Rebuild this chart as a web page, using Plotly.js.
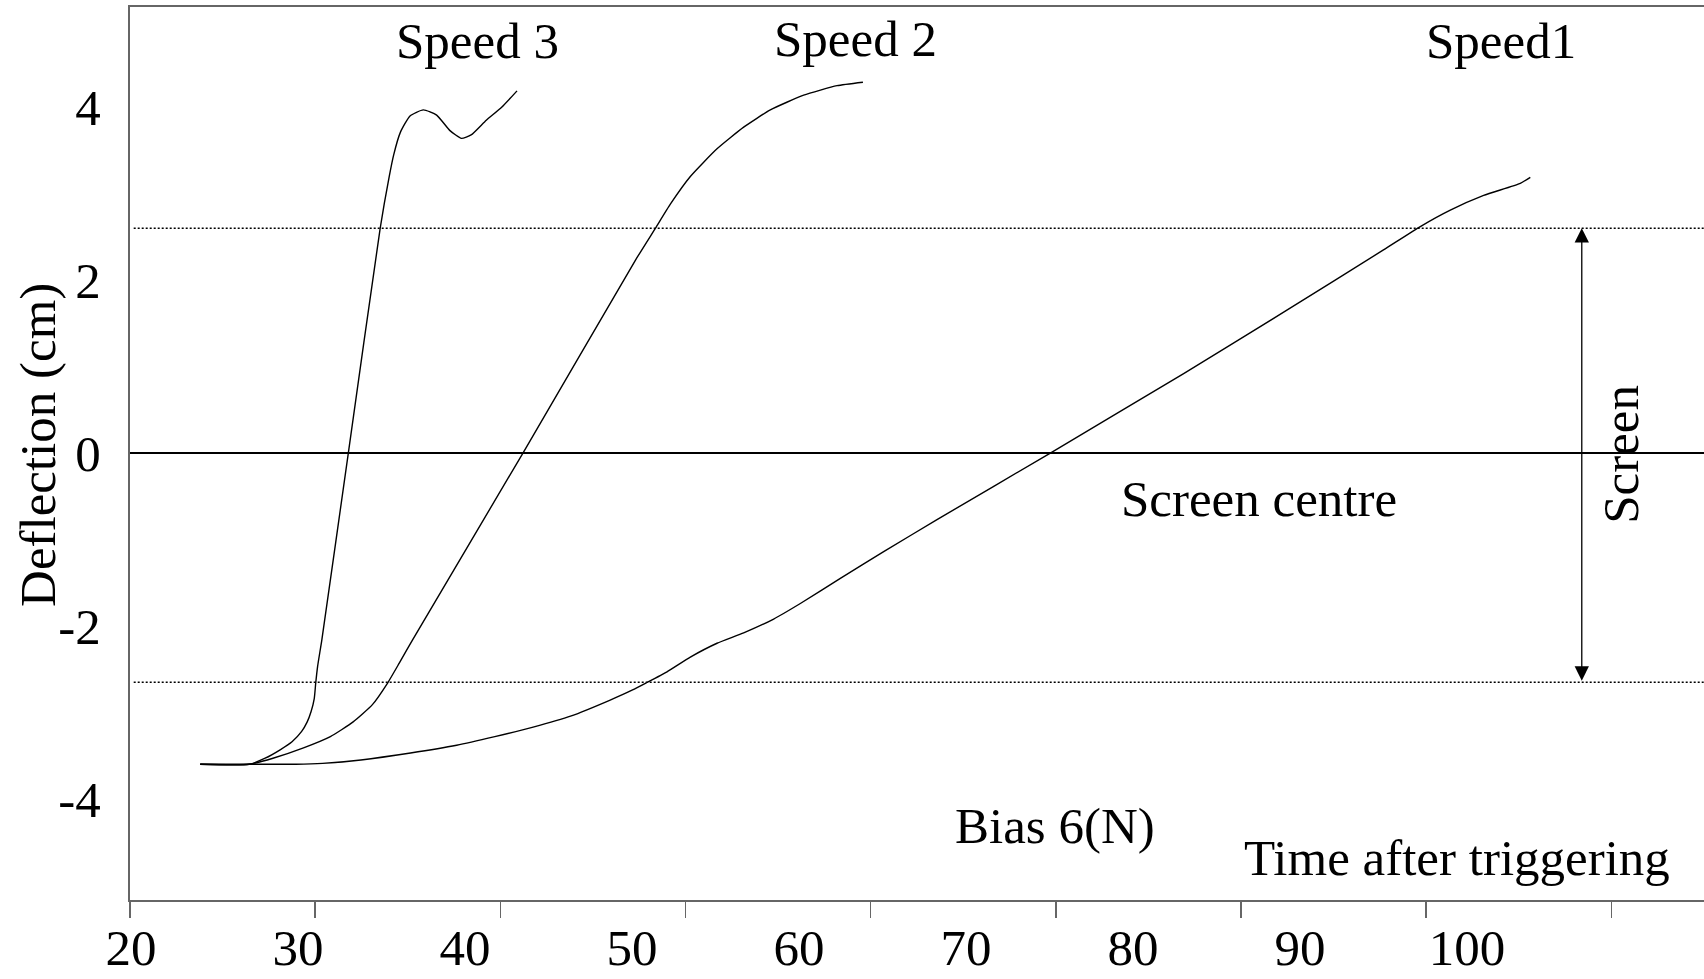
<!DOCTYPE html>
<html>
<head>
<meta charset="utf-8">
<script src="https://cdn.plot.ly/plotly-3.0.1.min.js"></script>
<style>
  html, body { margin: 0; padding: 0; background: #fff; }
  #chart { width: 1704px; height: 979px; }
</style>
</head>
<body>
<div id="chart"></div>
<script>
// ---- Data ----
const speed3X = [23.79, 26.43, 27.30, 28.13, 28.75, 29.27, 29.57, 29.78, 29.95, 30.03, 30.13, 30.36, 31.79, 33.51, 34.00, 34.24, 34.60, 35.12, 35.84, 36.56, 37.28, 37.90, 38.42, 39.24, 40.07, 40.90];
const speed3Y = [-3.60, -3.60, -3.53, -3.43, -3.34, -3.22, -3.11, -2.99, -2.84, -2.66, -2.47, -2.16, 0.00, 2.60, 3.20, 3.45, 3.71, 3.90, 3.97, 3.91, 3.73, 3.64, 3.68, 3.85, 4.00, 4.19];

const speed2X = [23.79, 26.43, 27.72, 29.37, 30.82, 32.05, 33.09, 33.91, 34.54, 35.26, 41.22, 47.29, 48.37, 49.18, 50.26, 51.70, 53.14, 54.58, 56.38, 58.18, 59.58];
const speed2Y = [-3.60, -3.60, -3.53, -3.41, -3.28, -3.11, -2.91, -2.66, -2.43, -2.16, 0.00, 2.23, 2.60, 2.88, 3.20, 3.52, 3.77, 3.97, 4.14, 4.25, 4.29];

const speed1X = [23.79, 26.43, 28.95, 30.40, 32.47, 35.15, 37.64, 39.70, 41.77, 43.83, 45.90, 47.14, 47.86, 49.00, 50.26, 51.70, 53.14, 54.76, 56.20, 58.36, 60.70, 63.58, 69.70, 76.90, 82.30, 87.69, 89.68, 91.30, 93.10, 95.08, 95.62];
const speed1Y = [-3.60, -3.60, -3.60, -3.59, -3.55, -3.47, -3.38, -3.28, -3.17, -3.04, -2.86, -2.74, -2.66, -2.53, -2.36, -2.20, -2.08, -1.92, -1.74, -1.45, -1.14, -0.77, 0.00, 0.92, 1.63, 2.35, 2.62, 2.81, 2.98, 3.12, 3.19];

const screenTop = 2.60;
const screenBottom = -2.65;

const xTickValues = [20, 30, 40, 50, 60, 70, 80, 90, 100];
const xTickLabels = ['20', '30', '40', '50', '60', '70', '80', '90', '100'];
const yTickValues = [-4, -2, 0, 2, 4];
const yTickLabels = ['-4', '-2', '0', '2', '4'];

const seriesNames = ['Speed 3', 'Speed 2', 'Speed1'];
const yTitle = 'Deflection (cm)';

// ---- Styling ----
const FONT = '"Liberation Serif", "Times New Roman", Times, serif';
const FS = 51;
const AXIS_COLOR = '#666666';

function curve(x, y, name) {
  return {
    x: x, y: y, name: name, type: 'scatter', mode: 'lines',
    line: { color: '#000', width: 1.4, shape: 'spline', smoothing: 0.5 },
    hoverinfo: 'x+y+name', showlegend: false, xaxis: 'x', yaxis: 'y'
  };
}

const traces = [
  curve(speed3X, speed3Y, seriesNames[0]),
  curve(speed2X, speed2Y, seriesNames[1]),
  curve(speed1X, speed1Y, seriesNames[2]),
  // invisible carrier so the label axis (x2) is drawn
  { x: xTickValues, y: xTickValues.map(() => null), type: 'scatter', mode: 'lines',
    xaxis: 'x2', yaxis: 'y', hoverinfo: 'skip', showlegend: false,
    line: { color: 'rgba(0,0,0,0)', width: 0 } }
];

function label(text, x, y, extra) {
  return Object.assign({
    text: text, x: x, y: y, xref: 'x', yref: 'y', showarrow: false,
    font: { family: FONT, size: FS, color: '#000' },
    xanchor: 'center', yanchor: 'middle'
  }, extra || {});
}

const layout = {
  width: 1704, height: 979,
  margin: { l: 130, r: 0, t: 7, b: 79, pad: 0 },
  paper_bgcolor: '#fff', plot_bgcolor: '#fff',
  font: { family: FONT, size: FS, color: '#000' },
  showlegend: false,
  xaxis: {
    range: [20, 105], tickvals: xTickValues, showticklabels: false,
    ticks: 'outside', ticklen: 16, tickwidth: 1.5, tickcolor: AXIS_COLOR,
    showline: true, linecolor: AXIS_COLOR, linewidth: 2, mirror: true,
    showgrid: false, zeroline: false, fixedrange: true
  },
  xaxis2: {
    overlaying: 'x', anchor: 'y', side: 'bottom',
    range: [19.94, 114.19], tickvals: xTickValues, ticktext: xTickLabels,
    ticks: 'outside', ticklen: 3, tickcolor: 'rgba(0,0,0,0)',
    tickfont: { family: FONT, size: FS, color: '#000' },
    showline: false, showgrid: false, zeroline: false, fixedrange: true
  },
  yaxis: {
    range: [-5.17, 5.16], tickvals: yTickValues, ticktext: yTickLabels,
    ticks: 'outside', ticklen: 17, tickcolor: 'rgba(0,0,0,0)',
    tickfont: { family: FONT, size: FS, color: '#000' },
    showline: true, linecolor: AXIS_COLOR, linewidth: 2,
    showgrid: false, zeroline: true, zerolinecolor: '#000', zerolinewidth: 1.3,
    fixedrange: true
  },
  shapes: [
    { type: 'line', xref: 'x', yref: 'y', x0: 20.2, x1: 105, y0: screenTop, y1: screenTop,
      line: { color: '#000', width: 1.5, dash: '2px,2px' } },
    { type: 'line', xref: 'x', yref: 'y', x0: 20.2, x1: 105, y0: screenBottom, y1: screenBottom,
      line: { color: '#000', width: 1.5, dash: '2px,2px' } }
  ],
  annotations: [
    { text: yTitle, xref: 'paper', yref: 'paper', x: -0.0585, y: 0.5095,
      xanchor: 'center', yanchor: 'middle', textangle: -90, showarrow: false,
      font: { family: FONT, size: FS, color: '#000' } },
    label(seriesNames[0], 38.79, 4.77),
    label(seriesNames[1], 59.20, 4.79),
    label(seriesNames[2], 94.03, 4.77),
    label('Screen centre', 80.99, -0.53),
    label('Screen', 100.51, -0.01, { textangle: -90 }),
    label('Bias 6(N)', 69.95, -4.31),
    label('Time after triggering', 91.65, -4.68),
    {
      x: 98.4, y: screenTop, ax: 98.4, ay: screenBottom,
      xref: 'x', yref: 'y', axref: 'x', ayref: 'y',
      text: '', showarrow: true, arrowside: 'end+start',
      arrowhead: 2, startarrowhead: 2, arrowsize: 2.2, startarrowsize: 2.2,
      arrowwidth: 1.3, arrowcolor: '#000', standoff: 0, startstandoff: 0
    }
  ]
};

Plotly.newPlot('chart', traces, layout, { displayModeBar: false, staticPlot: true });
</script>
</body>
</html>
